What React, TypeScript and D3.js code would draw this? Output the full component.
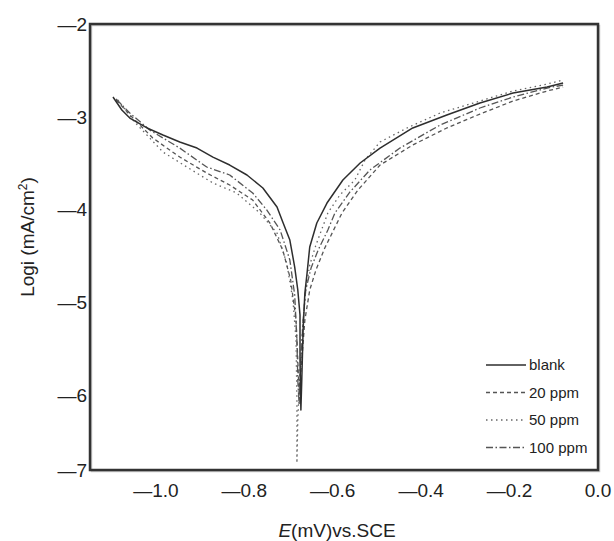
import * as d3 from 'd3'

// Polarisation curves: potential E (V vs. SCE) and log i
const blankE = [-1.097, -1.077, -1.059, -1.020, -0.984, -0.946, -0.907, -0.871, -0.833, -0.794, -0.758, -0.726, -0.713, -0.697, -0.686, -0.679, -0.674, -0.674, -0.672, -0.670, -0.667, -0.663, -0.658, -0.652, -0.636, -0.613, -0.577, -0.538, -0.493, -0.419, -0.342, -0.267, -0.192, -0.115, -0.079]
const blankLogI = [-2.786, -2.926, -3.012, -3.119, -3.195, -3.270, -3.335, -3.432, -3.518, -3.625, -3.765, -3.970, -4.131, -4.325, -4.616, -4.863, -5.132, -5.617, -6.155, -5.832, -5.294, -4.896, -4.680, -4.400, -4.142, -3.927, -3.679, -3.496, -3.335, -3.119, -2.980, -2.850, -2.743, -2.678, -2.635]

const ppm20E = [-1.090, -1.054, -1.007, -0.946, -0.885, -0.833, -0.781, -0.742, -0.713, -0.695, -0.683, -0.679, -0.676, -0.670, -0.663, -0.652, -0.638, -0.618, -0.579, -0.543, -0.493, -0.419, -0.342, -0.267, -0.192, -0.115, -0.079]
const ppm20LogI = [-2.818, -3.001, -3.227, -3.432, -3.604, -3.733, -3.895, -4.142, -4.433, -4.756, -5.186, -5.617, -5.994, -5.617, -5.186, -4.863, -4.648, -4.411, -4.034, -3.787, -3.518, -3.302, -3.119, -2.969, -2.829, -2.721, -2.678]

const ppm50E = [-1.086, -1.048, -0.984, -0.930, -0.871, -0.817, -0.765, -0.726, -0.704, -0.690, -0.683, -0.681, -0.681, -0.681, -0.679, -0.674, -0.667, -0.661, -0.652, -0.638, -0.611, -0.584, -0.550, -0.527, -0.493, -0.432, -0.357, -0.267, -0.192, -0.115, -0.079]
const ppm50LogI = [-2.818, -3.055, -3.378, -3.539, -3.711, -3.819, -4.034, -4.250, -4.573, -4.971, -5.401, -6.047, -6.478, -6.725, -6.263, -5.724, -5.186, -4.863, -4.594, -4.379, -4.034, -3.841, -3.679, -3.464, -3.270, -3.119, -2.958, -2.829, -2.721, -2.646, -2.603]

const ppm100E = [-1.090, -1.059, -1.014, -0.946, -0.885, -0.833, -0.781, -0.749, -0.719, -0.697, -0.686, -0.681, -0.679, -0.676, -0.672, -0.667, -0.661, -0.649, -0.633, -0.611, -0.595, -0.561, -0.516, -0.448, -0.357, -0.267, -0.192, -0.115, -0.079]
const ppm100LogI = [-2.807, -2.958, -3.141, -3.335, -3.539, -3.625, -3.819, -4.002, -4.217, -4.540, -4.917, -5.401, -5.832, -6.101, -5.617, -5.186, -4.863, -4.626, -4.433, -4.217, -4.034, -3.808, -3.572, -3.335, -3.087, -2.904, -2.786, -2.689, -2.657]

const seriesNames = ['blank', '20 ppm', '50 ppm', '100 ppm']
const xTicks = [-1.0, -0.8, -0.6, -0.4, -0.2, 0.0]
const yTicks = [-2, -3, -4, -5, -6, -7]

const FONT = "'Liberation Sans', Arial, Helvetica, sans-serif"

export default function App() {
  const W = 614, H = 541
  const left = 90, right = 598, top = 24, bottom = 470

  const x = d3.scaleLinear().domain([-1.149, 0]).range([left, right])
  // the -7 label sits on the bottom edge of the frame
  const y = d3.scaleLinear().domain([-6.8, -2]).range([bottom, top]).clamp(true)

  const series = [
    { name: seriesNames[0], E: blankE, L: blankLogI, stroke: '#2e2e2e', width: 1.5, dash: null },
    { name: seriesNames[1], E: ppm20E, L: ppm20LogI, stroke: '#555', width: 1.3, dash: '4,3' },
    { name: seriesNames[2], E: ppm50E, L: ppm50LogI, stroke: '#666', width: 1.3, dash: '1.5,3.5' },
    { name: seriesNames[3], E: ppm100E, L: ppm100LogI, stroke: '#555', width: 1.3, dash: '7,2.5,1.5,2.5' },
  ]

  const line = d3.line<[number, number]>()
    .x(d => x(d[0]))
    .y(d => y(d[1]))
    .curve(d3.curveLinear)

  const fmtX = (v: number) => (v === 0 ? '0.0' : '\u2014' + Math.abs(v).toFixed(1))
  const fmtY = (v: number) => '\u2014' + Math.abs(v)

  const legX0 = 486, legX1 = 526, legY0 = 365, legStep = 27.5

  return (
    <div style={{ position: 'absolute', left: 0, top: 0 }}>
      <svg width={W} height={H} style={{ display: 'block', background: '#fff' }} fontFamily={FONT}>
        {/* curves (drawn in reverse so the blank line sits on top) */}
        <g fill="none">
          {series.slice().reverse().map(s => (
            <path
              key={s.name}
              d={line(s.E.map((e, i) => [e, s.L[i]] as [number, number])) || ''}
              stroke={s.stroke}
              strokeWidth={s.width}
              strokeDasharray={s.dash || undefined}
              strokeLinejoin="round"
            />
          ))}
        </g>

        {/* frame */}
        <rect x={left + 1.5} y={top + 1.5} width={right - left} height={bottom - top}
          fill="none" stroke="#c8c8c8" strokeWidth={1.5} />
        <rect x={left} y={top} width={right - left} height={bottom - top}
          fill="none" stroke="#333" strokeWidth={2.5} />

        {/* y tick labels */}
        {yTicks.map(t => (
          <text key={t} x={87} y={y(t)} dy="0.35em" textAnchor="end" fontSize={19} fill="#222">
            {fmtY(t)}
          </text>
        ))}

        {/* x tick labels */}
        {xTicks.map(t => (
          <text key={t} x={x(t)} y={497} textAnchor="middle" fontSize={19} fill="#222">
            {fmtX(t)}
          </text>
        ))}

        {/* axis titles */}
        <text x={337} y={537} textAnchor="middle" fontSize={19} fill="#222">
          <tspan fontStyle="italic">E</tspan>(mV)vs.SCE
        </text>
        <text transform={`translate(34,${(top + bottom) / 2 - 10}) rotate(-90)`} textAnchor="middle" fontSize={19} fill="#222">
          Logi (mA/cm<tspan fontSize={12} dy={-7}>2</tspan><tspan dy={7}>)</tspan>
        </text>

        {/* legend */}
        {series.map((s, i) => {
          const ly = legY0 + i * legStep
          return (
            <g key={s.name}>
              <line x1={legX0} x2={legX1} y1={ly} y2={ly} stroke={s.stroke}
                strokeWidth={s.width} strokeDasharray={s.dash || undefined} />
              <text x={legX1 + 3} y={ly} dy="0.35em" fontSize={15} fill="#222">{s.name}</text>
            </g>
          )
        })}
      </svg>
    </div>
  )
}
